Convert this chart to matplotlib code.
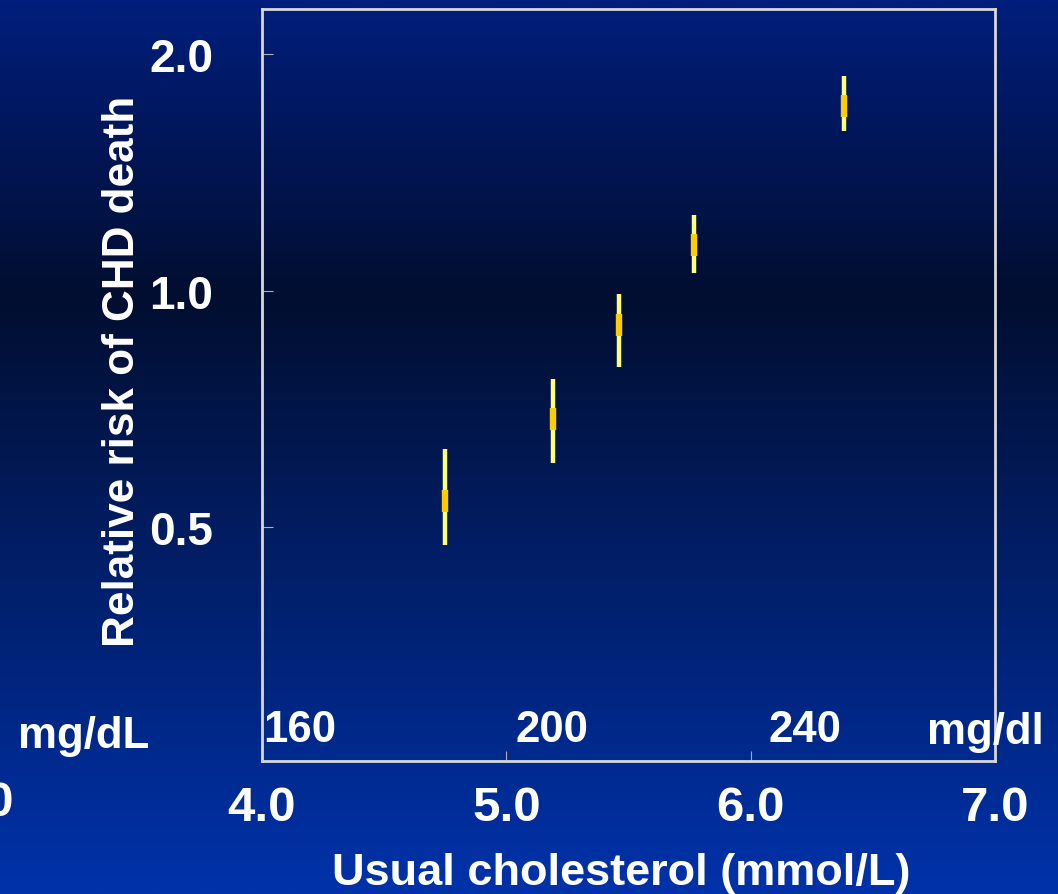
import numpy as np
import matplotlib
matplotlib.use("Agg")
import matplotlib.pyplot as plt
from matplotlib.colors import LinearSegmentedColormap
from matplotlib.ticker import FixedLocator, NullLocator

# Usual cholesterol (mmol/L) and relative risk of CHD death with 95% CI
cholesterol = [4.75, 5.19, 5.46, 5.77, 6.38]
relative_risk = [0.540, 0.687, 0.906, 1.143, 1.717]
ci_low = [0.475, 0.604, 0.800, 1.054, 1.598]
ci_high = [0.629, 0.773, 0.991, 1.249, 1.878]

mmol_ticks = [4.0, 5.0, 6.0, 7.0]
mmol_labels = ["4.0", "5.0", "6.0", "7.0"]
rr_ticks = [0.5, 1.0, 2.0]
rr_labels = ["0.5", "1.0", "2.0"]
mgdl_values = [160, 200, 240]
MGDL_PER_MMOL = 38.67

W, H, DPI = 1058, 895, 100
plt.rcParams["font.family"] = ["Liberation Sans", "DejaVu Sans"]
plt.rcParams["font.weight"] = "bold"

fig = plt.figure(figsize=(W / DPI, H / DPI), dpi=DPI)

# vertical background gradient: blue at top, near-black band, brighter blue at bottom
bg = fig.add_axes([0, 0, 1, 1], zorder=-10)
bg.axis("off")
cmap = LinearSegmentedColormap.from_list(
    "slide",
    [(0.0, (0/255, 30/255, 125/255)),
     (0.33, (2/255, 14/255, 48/255)),
     (1.0, (0/255, 50/255, 170/255))])
grad = np.linspace(0, 1, 512).reshape(-1, 1)
bg.imshow(grad, aspect="auto", cmap=cmap, extent=[0, 1, 0, 1], origin="upper")
bg.set_xlim(0, 1)
bg.set_ylim(0, 1)

left, right = 262 / W, 995 / W
bottom, top = 1 - 762 / H, 1 - 10 / H
ax = fig.add_axes([left, bottom, right - left, top - bottom])
ax.patch.set_alpha(0)

ax.set_yscale("log")
ax.set_xlim(4.0, 7.0)
ax.set_ylim(0.252, 2.285)

yerr = [np.array(relative_risk) - np.array(ci_low),
        np.array(ci_high) - np.array(relative_risk)]
ax.errorbar(cholesterol, relative_risk, yerr=yerr, fmt="none",
            ecolor="#FFFF78", elinewidth=3.2, capsize=0, zorder=3)
ax.plot(cholesterol, relative_risk, linestyle="none", marker="|",
        markersize=16.5, markeredgewidth=4.6, color="#FFCC00", zorder=4)

spine_col = "#D8D8D8"
for s in ax.spines.values():
    s.set_color(spine_col)
    s.set_linewidth(2.0)

ax.xaxis.set_major_locator(FixedLocator(mmol_ticks))
ax.set_xticklabels(mmol_labels)
ax.yaxis.set_major_locator(FixedLocator(rr_ticks))
ax.set_yticklabels(rr_labels)
ax.yaxis.set_minor_locator(NullLocator())
ax.xaxis.set_minor_locator(NullLocator())

ax.tick_params(axis="x", direction="in", length=7, width=0.8, color="#B0B0B0",
               labelsize=35.5, labelcolor="white", pad=17)
ax.tick_params(axis="y", direction="in", length=8, width=0.8, color="#B0B0B0",
               labelsize=33, labelcolor="white", pad=35)
for lab in ax.get_xticklabels() + ax.get_yticklabels():
    lab.set_fontweight("bold")

ax.set_xlabel("Usual cholesterol (mmol/L)", fontsize=32.5, fontweight="bold",
              color="white")
ax.xaxis.set_label_coords(0.49, -0.121)
ax.set_ylabel("Relative risk of CHD death", fontsize=31.8, fontweight="bold",
              color="white")
ax.yaxis.set_label_coords(-0.162, 0.519)

# secondary mg/dL scale written inside the plot
for v in mgdl_values:
    ax.text(v / MGDL_PER_MMOL + 0.015, 0.0415, str(v), transform=ax.get_xaxis_transform(),
            ha="center", va="center", fontsize=31.5, fontweight="bold", color="white")
fig.text(84 / W, 1 - 737 / H, "mg/dL", ha="center", va="center", fontsize=31.5,
         fontweight="bold", color="white")
fig.text(985 / W, 1 - 733 / H, "mg/dl", ha="center", va="center", fontsize=31.5,
         fontweight="bold", color="white", zorder=10)
fig.text(14 / W, 1 - 804 / H, "3.0", ha="right", va="center", fontsize=35.5,
         fontweight="bold", color="white")

fig.savefig("out.png", dpi=DPI)
